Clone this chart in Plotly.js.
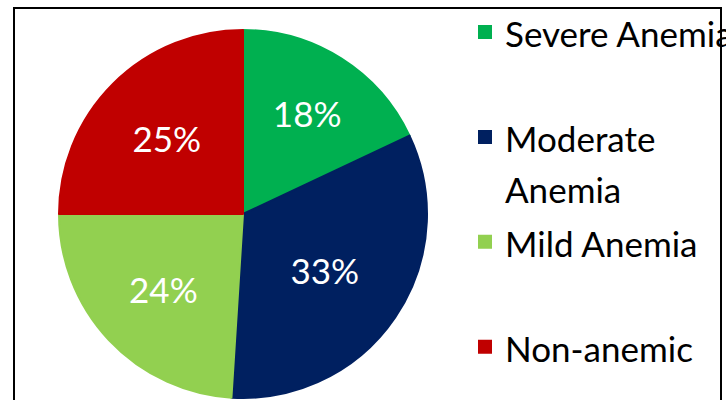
<!DOCTYPE html>
<html>
<head>
<meta charset="utf-8">
<script src="https://cdn.plot.ly/plotly-3.0.1.min.js"></script>
<style>
html,body{margin:0;padding:0;background:#fff;}
#chart{width:726px;height:400px;}
</style>
</head>
<body>
<div id="chart"></div>
<script>
const categories = ["Severe Anemia", "Moderate<br>Anemia", "Mild Anemia", "Non-anemic"];
const shares = [18, 33, 24, 25];
const sliceColors = ["#00B050", "#002060", "#92D050", "#C00000"];

const W = 726, H = 400;
// every legend entry but the last occupies two text lines (blank second line where needed)
const legendLabels = categories.map((c, i) => {
  const t = (c.indexOf("<br>") >= 0 || i === categories.length - 1) ? c : c + "<br> ";
  return t.split("<br>").map(s => '<span style="font-size:35px">' + s + '</span>').join("<br>");
});

const trace = {
  type: "pie",
  labels: legendLabels,
  values: shares,
  sort: false,
  direction: "clockwise",
  rotation: 0,
  marker: {colors: sliceColors, line: {color: sliceColors, width: 2}},
  texttemplate: "%{percent:.0%}",
  textposition: "inside",
  insidetextorientation: "horizontal",
  insidetextfont: {family: "Lato, sans-serif", size: 35, color: "#ffffff"},
  hoverinfo: "none",
  domain: {x: [59 / W, 427 / W], y: [1 - 398 / H, 1 - 30 / H]}
};

const layout = {
  width: W, height: H,
  margin: {l: 0, r: 0, t: 0, b: 0, autoexpand: false},
  paper_bgcolor: "#ffffff",
  showlegend: true,
  legend: {
    x: 465 / W, xanchor: "left",
    y: 1, yanchor: "top",
    valign: "top",
    font: {family: "Lato, sans-serif", size: 39.2, color: "#000000"},
    bgcolor: "rgba(0,0,0,0)"
  },
  shapes: [{
    type: "rect", xref: "paper", yref: "paper",
    x0: 14 / W, x1: 721 / W, y0: -0.05, y1: 1 - 8 / H,
    line: {color: "#000000", width: 2}, layer: "above"
  }]
};

Plotly.newPlot("chart", [trace], layout, {displayModeBar: false, staticPlot: true});
</script>
</body>
</html>
